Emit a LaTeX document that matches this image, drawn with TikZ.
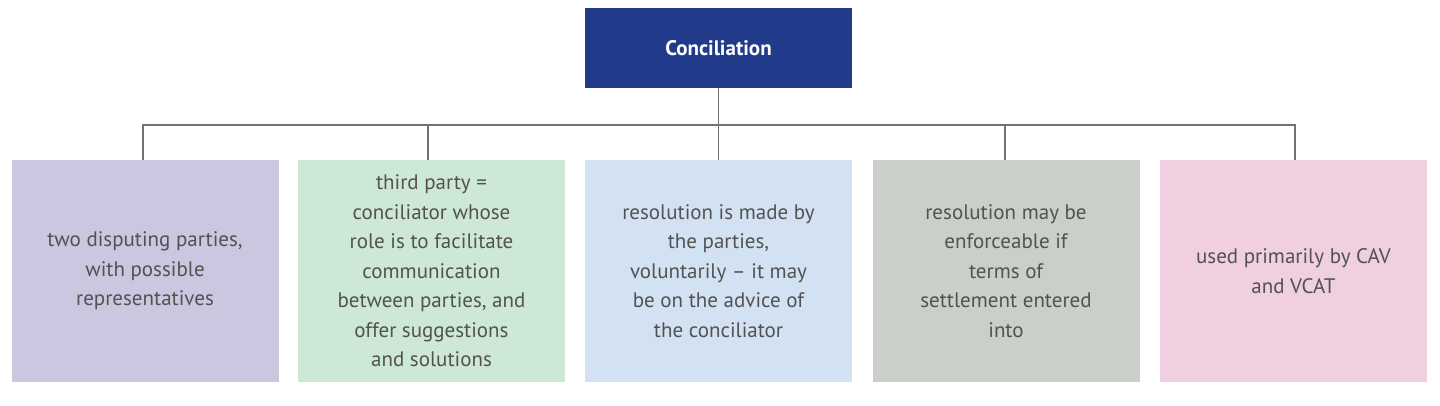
\documentclass[tikz,border=0pt]{standalone}
\usepackage{fontspec}
\setmainfont{PT Sans}
\begin{document}
\begin{tikzpicture}[x=1pt,y=-1pt,
  box/.style={draw=none,minimum width=267pt,minimum height=222pt,align=center,inner sep=0pt,text=black!68,font=\fontsize{21}{29.5}\selectfont},
  conn/.style={draw=black!55,line width=1.2pt}]
\useasboundingbox (0,0) rectangle (1440,406);
\definecolor{topc}{RGB}{33,58,138}
\definecolor{c1}{RGB}{201,200,224}
\definecolor{c2}{RGB}{205,232,212}
\definecolor{c3}{RGB}{211,226,242}
\definecolor{c4}{RGB}{203,207,202}
\definecolor{c5}{RGB}{239,207,224}
\node[fill=topc,minimum width=267pt,minimum height=80pt,text=white,font=\fontsize{21}{25}\selectfont\bfseries,inner sep=0pt] (top) at (718.5,48) {Conciliation};
\node[box,fill=c1] (b1) at (145,271) {two disputing parties,\\with possible\\representatives};
\node[box,fill=c2] (b2) at (431.5,271) {third party =\\conciliator whose\\role is to facilitate\\communication\\between parties, and\\offer suggestions\\and solutions};
\node[box,fill=c3] (b3) at (718.5,271) {resolution is made by\\the parties,\\voluntarily -- it may\\be on the advice of\\the conciliator};
\node[box,fill=c4] (b4) at (1006,271) {resolution may be\\enforceable if\\terms of\\settlement entered\\into};
\node[box,fill=c5] (b5) at (1293.5,271) {used primarily by CAV\\and VCAT};
\draw[conn] (top.south) -- (b3.north);
\draw[conn] (b1.north -| 143,0) -- (143,125) -- (1295,125) -- (b5.north -| 1295,0);
\draw[conn] (428,125) -- (b2.north -| 428,0);
\draw[conn] (1005,125) -- (b4.north -| 1005,0);
\end{tikzpicture}
\end{document}
